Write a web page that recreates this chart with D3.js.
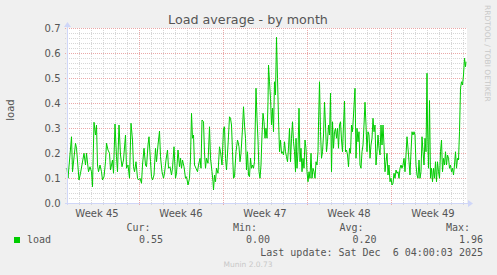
<!DOCTYPE html>
<html><head><meta charset="utf-8">
<script src="https://cdn.jsdelivr.net/npm/d3@7"></script>
<style>html,body{margin:0;padding:0;background:#F0F0F0;}svg{display:block;}</style>
</head><body>
<script>
// ---- data (hours since Tue Nov 4 2025 00:00, load average) ----
const hours = [0,2,9,11,17,19,24,27,34,37,39,43,46,49,51,54,57,59,61,63,66,69,71,74,77,79,82,85,87,91,93,96,99,101,104,107,110,113,
117,119,122,125,128,131,133,135,138,141,143,146,149,151,154,157,159,162,164,167,169,171,174,177,179,182,185,187,190,193,195,198,201,203,206,209,211,214,217,219,222,225,227,
229,231,234,237,239,242,245,247,249,251,253,255,258,261,263,266,268,270,273,275,277,279,282,285,287,290,292,293,295,297,299,302,305,307,310,313,315,317,319,322,325,327,329,331,333,335,338,341,
342,344,346,348,351,353,355,357,359,361,363,365,367,369,371,373,375,378,380,382,384,386,388,390,392,394,396,398,400,402,403,405,407,409,411,413,415,417,419,421,423,425,427,429,431,433,435,437,439,441,443,445,447,449,451,453,455,457,
458,460,462,464,466,468,470,472,474,476,478,480,482,484,486,488,490,492,494,496,498,500,502,503,505,507,509,511,513,515,517,519,521,523,525,527,529,531,533,535,537,539,541,543,545,547,549,551,553,555,557,559,561,563,565,567,569,571,573,
576,578,580,582,584,586,588,590,592,594,596,598,600,602,604,606,608,610,612,614,616,618,620,622,624,626,628,630,632,634,636,638,640,642,644,646,648,650,652,654,656,658,660,662,664,666,668,670,672,674,676,678,680,682,684,686,688,
690,692,694,696,698,700,702,704,706,708,710,712,714,716,718,720,721,723,725,727,729,731,733,735,737,739,741,743,745,747,749,751,753,755,757,759,761,763,765,767,769,771,773,775,777,779,781,783,785,787,789,791,793,795,797,798];
const load = [0.14,0.099,0.265,0.125,0.239,0.219,0.092,0.119,0.199,0.152,0.199,0.125,0.145,0.125,0.065,0.323,0.272,0.312,0.152,0.125,0.152,0.125,0.092,0.105,0.165,0.239,0.212,0.199,0.132,0.172,0.119,0.316,0.185,0.125,0.312,0.192,0.145,0.172,
0.272,0.139,0.152,0.099,0.319,0.252,0.145,0.125,0.165,0.099,0.092,0.099,0.079,0.152,0.219,0.152,0.145,0.232,0.265,0.165,0.105,0.092,0.112,0.219,0.165,0.232,0.288,0.185,0.125,0.099,0.119,0.172,0.212,0.139,0.145,0.112,0.139,0.225,0.099,0.119,0.212,0.145,0.179,
0.139,0.172,0.145,0.099,0.105,0.072,0.099,0.179,0.359,0.259,0.272,0.152,0.139,0.125,0.152,0.179,0.139,0.332,0.325,0.199,0.139,0.179,0.159,0.305,0.179,0.125,0.085,0.052,0.112,0.085,0.139,0.119,0.225,0.205,0.152,0.299,0.305,0.179,0.132,0.232,0.345,0.339,0.312,0.205,0.099,0.105,0.205,0.252,
0.245,0.225,0.165,0.199,0.299,0.385,0.312,0.259,0.132,0.205,0.112,0.105,0.179,0.139,0.152,0.139,0.165,0.459,0.339,0.252,0.125,0.099,0.152,0.272,0.359,0.325,0.259,0.299,0.259,0.405,0.552,0.485,0.419,0.312,0.379,0.285,0.485,0.432,0.663,0.499,0.339,0.205,0.252,0.199,0.205,0.192,0.245,0.205,0.185,0.165,0.219,0.299,0.165,0.259,0.325,0.245,0.205,0.125,
0.259,0.139,0.205,0.379,0.165,0.219,0.125,0.179,0.139,0.252,0.219,0.125,0.085,0.125,0.099,0.199,0.099,0.139,0.125,0.099,0.165,0.152,0.205,0.312,0.485,0.285,0.179,0.205,0.272,0.403,0.312,0.205,0.245,0.312,0.272,0.439,0.125,0.325,0.219,0.285,0.299,0.259,0.299,0.219,0.312,0.325,0.252,0.205,0.312,0.408,0.205,0.212,0.192,0.145,0.219,0.199,0.312,0.285,0.352,
0.459,0.179,0.299,0.245,0.285,0.152,0.139,0.205,0.232,0.312,0.403,0.312,0.205,0.285,0.272,0.179,0.232,0.259,0.339,0.285,0.312,0.152,0.205,0.272,0.219,0.192,0.312,0.232,0.312,0.232,0.125,0.165,0.199,0.112,0.152,0.085,0.099,0.072,0.079,0.119,0.099,0.132,0.119,0.125,0.099,0.139,0.152,0.139,0.152,0.179,0.125,0.192,0.265,0.219,0.165,0.112,0.205,
0.285,0.272,0.285,0.272,0.152,0.112,0.099,0.172,0.099,0.125,0.265,0.205,0.152,0.259,0.205,0.519,0.312,0.139,0.41,0.099,0.139,0.085,0.139,0.099,0.165,0.085,0.165,0.125,0.099,0.205,0.252,0.125,0.179,0.152,0.205,0.152,0.192,0.179,0.139,0.152,0.125,0.139,0.112,0.152,0.205,0.139,0.179,0.172,0.285,0.459,0.485,0.472,0.512,0.579,0.545,0.565];
const yTicks = [0.0,0.1,0.2,0.3,0.4,0.5,0.6,0.7];
const weekLabels = ["Week 45","Week 46","Week 47","Week 48","Week 49"];
const statNames = ["Cur:","Min:","Avg:","Max:"];
const statValues = ["0.55","0.00","0.20","1.96"];
const seriesName = "load";
const title = "Load average - by month";
const lastUpdate = "Last update: Sat Dec  6 04:00:03 2025";

// ---- chart ----
const W = 497, H = 275;
const L = 67, R = 467, T = 28, B = 203;
const start = new Date(2025, 10, 4, 0, 0, 0);
const end = d3.timeHour.offset(start, 800);
const x = d3.scaleTime().domain([start, end]).range([L, R]);
const y = d3.scaleLinear().domain([0, 0.7]).range([B, T]);
const FONT = "'DejaVu Sans', sans-serif";
const MONO = "'DejaVu Sans Mono', monospace";
const txt = "#555555";

const svg = d3.select("body").append("svg").attr("width", W).attr("height", H);
svg.append("rect").attr("width", W).attr("height", H).attr("fill", "#F0F0F0");
svg.append("rect").attr("x", L).attr("y", T).attr("width", R - L).attr("height", B - T).attr("fill", "#FFFFFF");

const px = v => Math.round(v) + 0.5;
const grid = svg.append("g").attr("shape-rendering", "crispEdges");
const minorCol = "#d6d6d6", majorCol = "#eaa8a8";
// minor horizontal
const minorY = d3.range(1, 36).map(i => i * 0.02).filter(v => Math.abs(v * 10 - Math.round(v * 10)) > 1e-6);
grid.selectAll(".hmin").data(minorY).join("line")
  .attr("x1", L - 2).attr("x2", R).attr("y1", d => px(y(d))).attr("y2", d => px(y(d)))
  .attr("stroke", minorCol).attr("stroke-dasharray", "1,1");
// minor vertical (days)
const days = d3.timeDay.range(d3.timeDay.ceil(start), end).filter(d => d.getDay() !== 1);
grid.selectAll(".vmin").data(days).join("line")
  .attr("x1", d => px(x(d))).attr("x2", d => px(x(d))).attr("y1", T).attr("y2", B + 2)
  .attr("stroke", minorCol).attr("stroke-dasharray", "1,1");
// major horizontal
grid.selectAll(".hmaj").data(yTicks.filter(v => v > 0)).join("line")
  .attr("x1", L - 2).attr("x2", R).attr("y1", d => px(y(d))).attr("y2", d => px(y(d)))
  .attr("stroke", majorCol).attr("stroke-dasharray", "1,1");
// major vertical (weeks)
const mondays = d3.timeMonday.range(start, end);
grid.selectAll(".vmaj").data(mondays).join("line")
  .attr("x1", d => px(x(d))).attr("x2", d => px(x(d))).attr("y1", T).attr("y2", B + 2)
  .attr("stroke", majorCol).attr("stroke-dasharray", "1,1");

// data line
const pts = hours.map((h, i) => [d3.timeHour.offset(start, h), load[i]]);
svg.append("path").datum(pts)
  .attr("d", d3.line().x(d => x(d[0])).y(d => y(d[1])))
  .attr("fill", "none").attr("stroke", "#00CC00").attr("stroke-width", 1);

// axes
const ax = "#CFD6F8";
svg.append("line").attr("x1", L - 2).attr("x2", R + 2).attr("y1", B + 0.5).attr("y2", B + 0.5).attr("stroke", ax);
svg.append("line").attr("x1", L + 0.5).attr("x2", L + 0.5).attr("y1", B + 2).attr("y2", T - 2).attr("stroke", ax);
svg.append("path").attr("d", `M${R + 1},${B - 3} L${R + 6},${B + 0.5} L${R + 1},${B + 4} Z`).attr("fill", ax);
svg.append("path").attr("d", `M${L - 3},${T - 1} L${L + 0.5},${T - 6} L${L + 4},${T - 1} Z`).attr("fill", ax);

// y tick labels
svg.selectAll(".yl").data(yTicks).join("text")
  .attr("x", 60.5).attr("y", d => y(d) + 3.5).attr("text-anchor", "end")
  .attr("font-family", FONT).attr("font-size", 10).attr("fill", txt)
  .text(d => d.toFixed(1));
// week labels
svg.selectAll(".wl").data(weekLabels).join("text")
  .attr("x", (d, i) => x(d3.timeHour.offset(d3.timeMonday.offset(mondays[0], i - 1), 84)))
  .attr("y", 216.5).attr("text-anchor", "middle")
  .attr("font-family", FONT).attr("font-size", 10).attr("fill", txt)
  .text(d => d);

// title
svg.append("text").attr("x", 248).attr("y", 24).attr("text-anchor", "middle")
  .attr("font-family", FONT).attr("font-size", 12.7).attr("fill", txt).text(title);
// y label
svg.append("text").attr("transform", "translate(13.5,110) rotate(-90)").attr("text-anchor", "middle")
  .attr("font-family", FONT).attr("font-size", 10).attr("fill", txt).text(seriesName);
// watermark
svg.append("text").attr("transform", "translate(485,5) rotate(90)")
  .attr("font-family", FONT).attr("font-size", 7.5).attr("fill", "#c8c8c8").text("RRDTOOL / TOBI OETIKER");

// legend
const statX = [150.5, 257, 363.5, 470];
const valX = [163, 270, 376.5, 483];
svg.selectAll(".sn").data(statNames).join("text")
  .attr("x", (d, i) => statX[i]).attr("y", 231).attr("text-anchor", "end")
  .attr("font-family", MONO).attr("font-size", 10).attr("fill", txt).text(d => d);
svg.selectAll(".sv").data(statValues).join("text")
  .attr("x", (d, i) => valX[i]).attr("y", 243).attr("text-anchor", "end")
  .attr("font-family", MONO).attr("font-size", 10).attr("fill", txt).text(d => d);
svg.append("rect").attr("x", 14).attr("y", 237).attr("width", 6).attr("height", 6).attr("fill", "#00CC00");
svg.append("text").attr("x", 27).attr("y", 243)
  .attr("font-family", MONO).attr("font-size", 10).attr("fill", txt).text(seriesName);
svg.append("text").attr("x", 483).attr("y", 255.5).attr("text-anchor", "end").style("white-space", "pre")
  .attr("font-family", MONO).attr("font-size", 10).attr("fill", txt).text(lastUpdate);
svg.append("text").attr("x", 248).attr("y", 266.5).attr("text-anchor", "middle")
  .attr("font-family", FONT).attr("font-size", 7.5).attr("fill", "#c8c8c8").text("Munin 2.0.73");
</script>
</body></html>
